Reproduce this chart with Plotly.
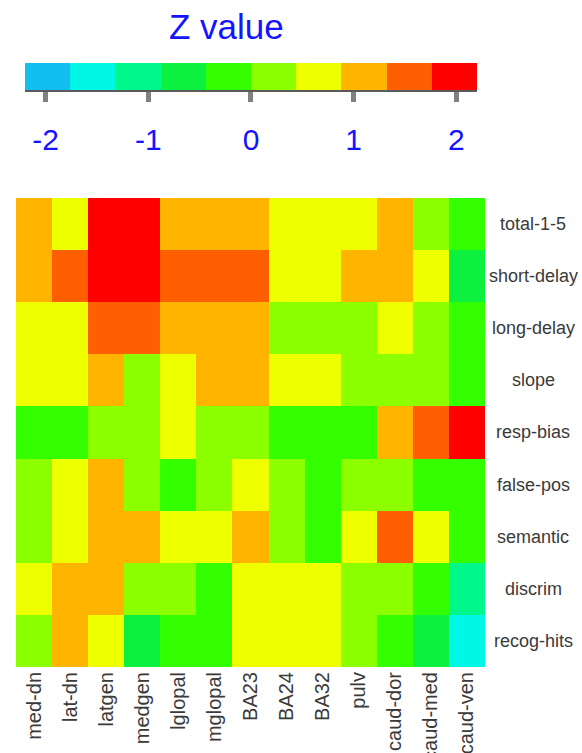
import plotly.graph_objects as go

# ---------------- data ----------------
columns = ["med-dn", "lat-dn", "latgen", "medgen", "lglopal", "mglopal",
           "BA23", "BA24", "BA32", "pulv", "caud-dor", "caud-med", "caud-ven"]
rows = ["total-1-5", "short-delay", "long-delay", "slope", "resp-bias",
        "false-pos", "semantic", "discrim", "recog-hits"]

z_total = [1.10, 0.65, 2.00, 1.95, 1.10, 1.05, 1.10, 0.60, 0.65, 0.62, 1.08, 0.20, -0.20]
z_short = [1.05, 1.50, 2.05, 1.98, 1.50, 1.52, 1.48, 0.64, 0.66, 1.10, 1.12, 0.60, -0.62]
z_long = [0.62, 0.66, 1.55, 1.50, 1.10, 1.12, 1.08, 0.22, 0.20, 0.18, 0.62, 0.22, -0.25]
z_slope = [0.64, 0.68, 1.08, 0.20, 0.66, 1.12, 1.10, 0.60, 0.62, 0.24, 0.20, 0.18, -0.22]
z_respbias = [-0.22, -0.25, 0.20, 0.22, 0.62, 0.18, 0.22, -0.20, -0.24, -0.22, 1.06, 1.52, 2.02]
z_falsepos = [0.24, 0.62, 1.08, 0.20, -0.22, 0.22, 0.66, 0.20, -0.26, 0.18, 0.20, -0.20, -0.24]
z_semantic = [0.22, 0.64, 1.10, 1.06, 0.62, 0.60, 1.04, 0.20, -0.24, 0.64, 1.54, 0.62, -0.22]
z_discrim = [0.66, 1.06, 1.10, 0.24, 0.20, -0.26, 0.64, 0.62, 0.60, 0.22, 0.20, -0.30, -1.10]
z_recog = [0.20, 1.08, 0.62, -0.64, -0.22, -0.26, 0.66, 0.64, 0.62, 0.22, -0.28, -0.60, -1.55]
z_values = [z_total, z_short, z_long, z_slope, z_respbias,
            z_falsepos, z_semantic, z_discrim, z_recog]

z_min, z_max = -2.2, 2.2
bin_colors = ["#12bff0", "#00f7e6", "#00f78a", "#0cf040", "#33ff00",
              "#8cff00", "#eeff00", "#ffb400", "#ff5f00", "#ff0000"]
colorbar_ticks = [-2, -1, 0, 1, 2]
colorbar_ticktext = ["-2", "-1", "0", "1", "2"]
colorbar_title = "Z value"

# ---------------- build ----------------
n = len(bin_colors)
colorscale = []
for i, c in enumerate(bin_colors):
    colorscale.append([i / n, c])
    colorscale.append([(i + 1) / n, c])

bin_w = (z_max - z_min) / n
bin_centers = [z_min + bin_w * (i + 0.5) for i in range(n)]

fig = go.Figure()
fig.add_trace(go.Heatmap(
    x=columns, y=rows, z=z_values,
    zmin=z_min, zmax=z_max, colorscale=colorscale,
    showscale=False, xaxis="x", yaxis="y",
    hovertemplate="%{x} / %{y}: %{z}<extra></extra>",
))
# colour key drawn as its own heatmap on a value axis
fig.add_trace(go.Heatmap(
    x=bin_centers, y=[0], z=[bin_centers],
    zmin=z_min, zmax=z_max, colorscale=colorscale,
    showscale=False, xaxis="x2", yaxis="y2", hoverinfo="skip",
))

text_color = "#3a3a3a"
blue = "#1414ff"

fig.update_layout(
    width=582, height=753,
    margin=dict(l=16, r=97, t=10, b=86, autoexpand=False),
    paper_bgcolor="white", plot_bgcolor="white",
    font=dict(family="Liberation Sans, Arial, sans-serif", color=text_color),
    xaxis=dict(domain=[0, 1], tickangle=-90, tickfont=dict(size=20, color=text_color),
               showgrid=False, zeroline=False, ticks="", showline=False,
               automargin=False),
    yaxis=dict(domain=[0, 0.7139], autorange="reversed", showticklabels=False,
               showgrid=False, zeroline=False, ticks="", automargin=False),
    xaxis2=dict(domain=[0.0192, 0.9829], anchor="y2", range=[z_min, z_max],
                tickvals=colorbar_ticks, ticktext=colorbar_ticktext,
                ticks="outside", ticklen=10, tickwidth=5,
                tickcolor="#808080", tickfont=dict(size=30, color=blue),
                ticklabelstandoff=12, showgrid=False, zeroline=False,
                showline=True, linecolor="#5a5a5a", linewidth=2,
                automargin=False),
    yaxis2=dict(domain=[0.8782, 0.9193], anchor="x2", showticklabels=False,
                showgrid=False, zeroline=False, ticks="", range=[-0.5, 0.5],
                automargin=False),
    showlegend=False,
)

for r in rows:
    fig.add_annotation(x=1.103, xref="paper", y=r, yref="y", text=r,
                       showarrow=False, xanchor="center",
                       font=dict(size=18, color=text_color))

fig.add_annotation(x=0.448, xref="paper", y=0.9756, yref="paper", yanchor="middle",
                   text=colorbar_title, showarrow=False,
                   font=dict(size=35, color=blue))

fig.write_html("out.html", config={"displayModeBar": False},
               post_script="document.body.style.margin='0';document.body.style.overflow='hidden';")
